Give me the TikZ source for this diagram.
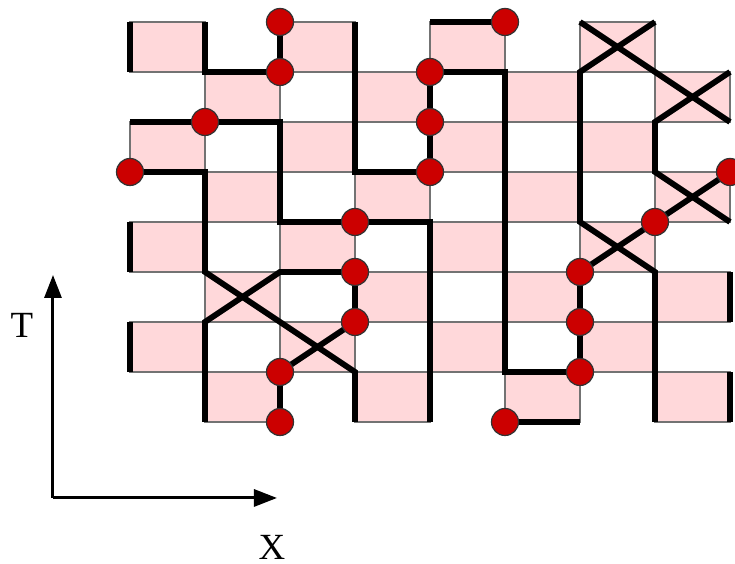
\documentclass[tikz,border=0pt]{standalone}
\usepackage{fontspec}
\setmainfont{Liberation Serif}
\usepackage{xcolor}
\usepackage{tikz}
\usetikzlibrary{arrows.meta}

\definecolor{cellpink}{RGB}{255,216,218}
\definecolor{spinred}{RGB}{204,0,0}

\begin{document}
\begin{tikzpicture}[x=0.75cm,y=0.5cm,font=\fontsize{10.5}{12}\selectfont,
  cell/.style={fill=cellpink,draw=black!55,line width=0.3pt},
  world/.style={line width=0.58mm},
  spin/.style={circle,fill=spinred,draw=black!80,line width=0.35pt,inner sep=0pt,minimum size=2.7mm},
  axislabel/.style={inner sep=0pt}]

\useasboundingbox (-1.7333,-2.84) rectangle (8.0667,8.44);

% lattice points
\foreach \i in {0,...,8} \foreach \j in {0,...,8} \coordinate (g\i\j) at (\i,\j);

% shaded plaquettes
\foreach \i in {0,...,7} \foreach \j in {0,...,7} {
  \pgfmathtruncatemacro\cellpar{mod(\i+\j,2)}
  \ifnum\cellpar=1 \draw[cell] (g\i\j) rectangle ++(1,1); \fi
}

% world lines
\draw[world] (g07) -- (g08);
\draw[world] (g03) -- (g04);
\draw[world] (g01) -- (g02);
\draw[world] (g82) -- (g83);
\draw[world] (g80) -- (g81);
\draw[world] (g18) -- (g17) -- (g27);
\draw[world] (g28) -- (g27);
\draw[world] (g38) -- (g35) -- (g45);
\draw[world] (g47) -- (g46) -- (g45);
\draw[world] (g48) -- (g58);
\draw[world] (g47) -- (g57) -- (g51) -- (g61);
\draw[world] (g06) -- (g26) -- (g24) -- (g34);
\draw[world] (g34) -- (g44) -- (g40);
\draw[world] (g05) -- (g15) -- (g13) -- (g31) -- (g30);
\draw[world] (g33) -- (g23) -- (g12) -- (g10);
\draw[world] (g33) -- (g32) -- (g21) -- (g20);
\draw[world] (g78) -- (g67) -- (g64) -- (g73) -- (g70);
\draw[world] (g68) -- (g77) -- (g86);
\draw[world] (g87) -- (g76) -- (g75) -- (g84);
\draw[world] (g85) -- (g74) -- (g63) -- (g62) -- (g61);
\draw[world] (g50) -- (g60);

% spins
\foreach \p in {28,27,16,05,47,46,45,58,34,33,32,21,20,85,74,63,62,61,50}
  \node[spin] (s\p) at (g\p) {};

% axes
\coordinate (orig) at (-1.0267,-1.52);
\coordinate (tipT) at (-1.0267,2.94);
\coordinate (tipX) at (1.96,-1.52);
\draw[line width=0.3mm,-{Triangle[length=2.3mm,width=1.7mm]}] (orig) -- (tipT);
\draw[line width=0.3mm,-{Triangle[length=2.3mm,width=1.7mm]}] (orig) -- (tipX);
\node[axislabel] (labT) at (-1.44,1.94) {T};
\node[axislabel] (labX) at (1.893,-2.5) {X};

\end{tikzpicture}
\end{document}
